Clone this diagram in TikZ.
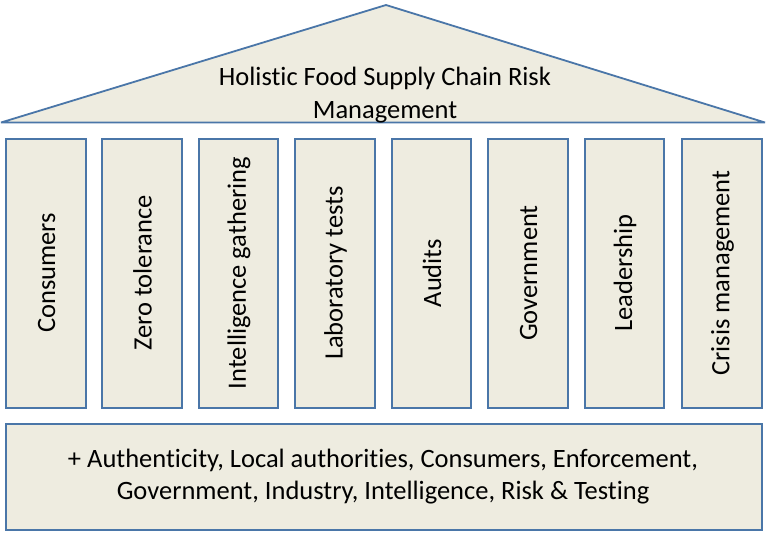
\documentclass[tikz,border=0pt]{standalone}
\usepackage{fontspec}
\setmainfont{Carlito}[Ligatures=NoCommon]
\definecolor{fillc}{HTML}{EEECE0}
\definecolor{linec}{HTML}{4A76A8}
\tikzset{
  x=1pt,y=-1pt,
  part/.style={draw=linec,fill=fillc,line width=2pt},
  pillar/.style={part,minimum width=80pt,minimum height=269pt,inner sep=0pt,anchor=north west},
  pillartext/.style={font=\fontsize{26.5}{32}\selectfont,text=black,rotate=90},
  band/.style={font=\fontsize{26.5}{32.5}\selectfont,text=black,align=center}
}
\begin{document}
\begin{tikzpicture}
\useasboundingbox[fill=white] (0,0) rectangle (768,539);
\draw[part,line width=1.8pt,line join=miter,miter limit=2] (386,5) -- (765,122.5) -- (1,122.5) -- cycle;
\node[band] (roof) at (385,95) {Holistic Food Supply Chain Risk\\Management};
\foreach \n/\x/\w/\t in {a/5/80/Consumers,b/101/80/Zero tolerance,c/198/79/Intelligence gathering,d/294/80/Laboratory tests,e/391/79/Audits,f/487/80/Government,g/584/79/Leadership,h/681/80/Crisis management}{
  \node[pillar,minimum width=\w pt] (\n) at (\x,137.5) {};
  \node[pillartext] (\n t) at ([xshift=0.5pt]\n.center) {\t};
}
\node[part,minimum width=756pt,minimum height=106pt,inner sep=0pt,anchor=north west] (base) at (5,423) {};
\node[band] (basetext) at (383,476.5) {+ Authenticity, Local authorities, Consumers, Enforcement,\\Government, Industry, Intelligence, Risk \& Testing};
\end{tikzpicture}
\end{document}
